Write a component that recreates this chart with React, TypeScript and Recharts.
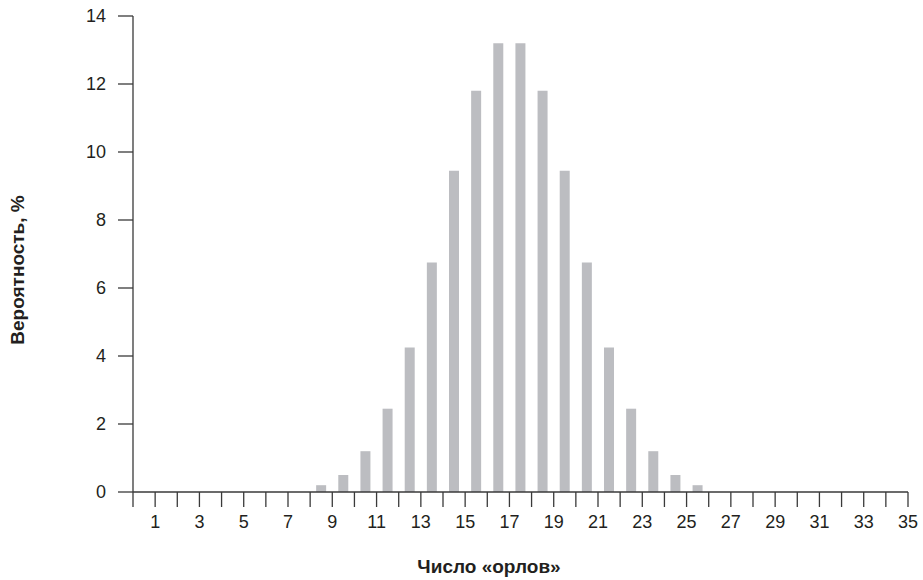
import React from 'react';
import { BarChart, Bar, XAxis, YAxis } from 'recharts';

const heads = [8, 9, 10, 11, 12, 13, 14, 15, 16, 17, 18, 19, 20, 21, 22, 23, 24, 25];
const probability = [0.2, 0.5, 1.2, 2.45, 4.25, 6.75, 9.45, 11.8, 13.2, 13.2, 11.8, 9.45, 6.75, 4.25, 2.45, 1.2, 0.5, 0.2];
const xTicks = Array.from({ length: 36 }, (_, i) => i);
const yTicks = [0, 2, 4, 6, 8, 10, 12, 14];
const xTitle = 'Число «орлов»';
const yTitle = 'Вероятность, %';

// each bar occupies the bin between two integer ticks
const data = heads.map((h, i) => ({ pos: h + 0.5, value: probability[i] }));

const AXIS = '#3a3a3a';
const TEXT = '#231f20';
const TICK_FONT = { fontFamily: 'Liberation Sans, Arial, sans-serif', fontSize: 18, fill: TEXT };
const TITLE_FONT = 'Liberation Sans, Arial, sans-serif';

export default function App() {
  return (
    <div style={{ position: 'absolute', left: 0, top: 0, width: 923, height: 580, background: '#fff' }}>
      <BarChart
        width={923}
        height={580}
        data={data}
        margin={{ top: 16, right: 15, bottom: 0, left: 0 }}
      >
        <XAxis
          type="number"
          dataKey="pos"
          domain={[0, 35]}
          ticks={xTicks}
          interval={0}
          allowDataOverflow
          height={88}
          tickSize={15}
          tickMargin={8}
          tickFormatter={(v: number) => (v % 2 === 1 ? String(v) : '')}
          tick={TICK_FONT}
          axisLine={{ stroke: AXIS, strokeWidth: 1.3 }}
          tickLine={{ stroke: AXIS, strokeWidth: 1.3 }}
          label={{
            content: () => (
              <text
                x={489}
                y={573}
                textAnchor="middle"
                fontFamily={TITLE_FONT}
                fontWeight="bold"
                fontSize={19}
                fill={TEXT}
              >
                {xTitle}
              </text>
            ),
          }}
        />
        <YAxis
          type="number"
          domain={[0, 14]}
          ticks={yTicks}
          interval={0}
          width={133}
          tickSize={15}
          tickMargin={12}
          tick={TICK_FONT}
          axisLine={{ stroke: AXIS, strokeWidth: 1.3 }}
          tickLine={{ stroke: AXIS, strokeWidth: 1.3 }}
          label={{
            content: () => (
              <text
                x={24}
                y={270}
                transform="rotate(-90, 24, 270)"
                textAnchor="middle"
                fontFamily={TITLE_FONT}
                fontWeight="bold"
                fontSize={19}
                fill={TEXT}
              >
                {yTitle}
              </text>
            ),
          }}
        />
        <Bar dataKey="value" fill="#bcbdc1" barSize={10} isAnimationActive={false} />
      </BarChart>
    </div>
  );
}
